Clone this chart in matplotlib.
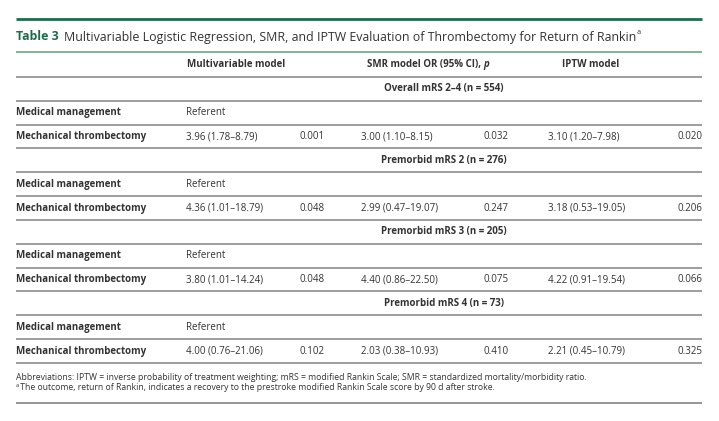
import matplotlib
matplotlib.use("Agg")
import matplotlib.pyplot as plt

# ---- data ----
title_label = "Table 3"
title_text = "Multivariable Logistic Regression, SMR, and IPTW Evaluation of Thrombectomy for Return of Rankin"
col_headers = ["Multivariable model", "SMR model OR (95% CI), ", "IPTW model"]
groups = ["Overall mRS 2\u20134 (n = 554)", "Premorbid mRS 2 (n = 276)",
          "Premorbid mRS 3 (n = 205)", "Premorbid mRS 4 (n = 73)"]
row_labels = ["Medical management", "Mechanical thrombectomy"]
multi_or = ["3.96 (1.78\u20138.79)", "4.36 (1.01\u201318.79)", "3.80 (1.01\u201314.24)", "4.00 (0.76\u201321.06)"]
multi_p = ["0.001", "0.048", "0.048", "0.102"]
smr_or = ["3.00 (1.10\u20138.15)", "2.99 (0.47\u201319.07)", "4.40 (0.86\u201322.50)", "2.03 (0.38\u201310.93)"]
smr_p = ["0.032", "0.247", "0.075", "0.410"]
iptw_or = ["3.10 (1.20\u20137.98)", "3.18 (0.53\u201319.05)", "4.22 (0.91\u201319.54)", "2.21 (0.45\u201310.79)"]
iptw_p = ["0.020", "0.206", "0.066", "0.325"]
referent = "Referent"
foot1 = "Abbreviations: IPTW = inverse probability of treatment weighting; mRS = modified Rankin Scale; SMR = standardized mortality/morbidity ratio."
foot2 = " The outcome, return of Rankin, indicates a recovery to the prestroke modified Rankin Scale score by 90 d after stroke."

# ---- style ----
FONT = ["Open Sans", "DejaVu Sans"]
GREEN = "#1f6b4c"
LGREEN = "#79ad93"
TXT = "#333333"
LINE = "#8c8c8c"
W, H = 719, 421

fig = plt.figure(figsize=(W / 100, H / 100), dpi=100)
ax = fig.add_axes([0, 0, 1, 1])
ax.set_xlim(0, W)
ax.set_ylim(H, 0)
ax.axis("off")
fig.canvas.draw()
renderer = fig.canvas.get_renderer()

def txt(x, y, s, size=7, weight="normal", color=TXT, ha="left", style="normal"):
    return ax.text(x, y, s, fontsize=size, fontweight=weight, color=color, ha=ha,
                   va="center", family=FONT, fontstyle=style)

def right_px(t):
    bb = t.get_window_extent(renderer=renderer)
    inv = ax.transData.inverted()
    return inv.transform((bb.x1, bb.y0))[0]

def hline(y, color=LINE, lw=1.2):
    ax.plot([16, 702], [y, y], color=color, lw=lw, solid_capstyle="butt")

XL = 16
X1, XP1 = 186, 300
X2, XP2 = 361, 483
X3, XP3 = 548, 702

# top rules and title
hline(18.5, GREEN, 2.0)
t = txt(XL, 37, title_label, size=8.95, weight="bold", color=GREEN)
xr = right_px(t)
t2 = txt(xr + 5, 37, title_text, size=8.95, color=TXT)
xr2 = right_px(t2)
txt(xr2 + 0.5, 33, "a", size=5.3, color=TXT)
hline(52, LGREEN, 1.3)

# header
txt(187, 64.5, col_headers[0], weight="bold")
th = txt(367, 64.5, col_headers[1], weight="bold")
txt(right_px(th), 64.5, "p", weight="bold", style="italic")
txt(562, 64.5, col_headers[2], weight="bold")

pitch = 23.83
y0 = 77.0
hline(y0)
for g in range(len(groups)):
    base = y0 + g * 3 * pitch
    txt(444, base + pitch / 2, groups[g], weight="bold", ha="center")
    hline(base + pitch)
    ym = base + 1.5 * pitch
    txt(XL, ym, row_labels[0], weight="bold")
    txt(X1, ym, referent)
    hline(base + 2 * pitch)
    yt = base + 2.5 * pitch
    txt(XL, yt, row_labels[1], weight="bold")
    txt(X1, yt, multi_or[g])
    txt(XP1, yt, multi_p[g])
    txt(X2, yt, smr_or[g])
    txt(XP2, yt, smr_p[g])
    txt(X3, yt, iptw_or[g])
    txt(XP3, yt, iptw_p[g], ha="right")
    hline(base + 3 * pitch)

# footnotes
txt(XL, 377, foot1, size=6.2)
txt(XL - 0.5, 385.5, "a", size=4.1)
txt(XL + 2.5, 387.5, foot2, size=6.2)
hline(403, LINE, 1.3)

fig.savefig("out.png", dpi=100, facecolor="white")
